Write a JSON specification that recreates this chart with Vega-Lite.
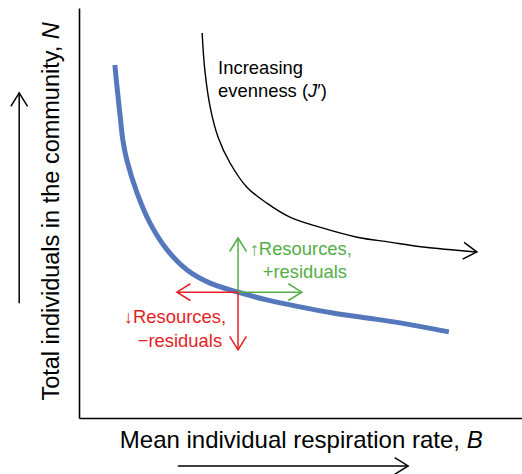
{
  "$schema": "https://vega.github.io/schema/vega-lite/v6.json",
  "width": 443,
  "height": 410,
  "autosize": {"type": "none"},
  "padding": {"left": 79, "top": 8, "right": 0, "bottom": 56},
  "background": "white",
  "config": {
    "view": {"stroke": null},
    "font": "Liberation Sans",
    "axis": {"labels": false, "ticks": false, "grid": false, "domainColor": "#000000", "domainWidth": 1.6, "title": null}
  },
  "datasets": {
    "curves": [
      {"curve": "main", "B": 0.81, "N": 8.61},
      {"curve": "main", "B": 0.85, "N": 8.16},
      {"curve": "main", "B": 0.93, "N": 7.35},
      {"curve": "main", "B": 0.99, "N": 6.78},
      {"curve": "main", "B": 1.08, "N": 6.29},
      {"curve": "main", "B": 1.31, "N": 5.49},
      {"curve": "main", "B": 1.60, "N": 4.76},
      {"curve": "main", "B": 1.99, "N": 4.10},
      {"curve": "main", "B": 2.44, "N": 3.61},
      {"curve": "main", "B": 2.96, "N": 3.29},
      {"curve": "main", "B": 3.59, "N": 3.07},
      {"curve": "main", "B": 4.24, "N": 2.88},
      {"curve": "main", "B": 4.99, "N": 2.71},
      {"curve": "main", "B": 5.73, "N": 2.56},
      {"curve": "main", "B": 6.50, "N": 2.44},
      {"curve": "main", "B": 7.25, "N": 2.32},
      {"curve": "main", "B": 8.35, "N": 2.10},
      {"curve": "evenness", "B": 2.78, "N": 9.39},
      {"curve": "evenness", "B": 2.84, "N": 8.49},
      {"curve": "evenness", "B": 2.96, "N": 7.59},
      {"curve": "evenness", "B": 3.14, "N": 6.85},
      {"curve": "evenness", "B": 3.41, "N": 6.22},
      {"curve": "evenness", "B": 3.79, "N": 5.63},
      {"curve": "evenness", "B": 4.24, "N": 5.24},
      {"curve": "evenness", "B": 4.76, "N": 4.90},
      {"curve": "evenness", "B": 5.51, "N": 4.63},
      {"curve": "evenness", "B": 6.28, "N": 4.41},
      {"curve": "evenness", "B": 7.02, "N": 4.29},
      {"curve": "evenness", "B": 7.77, "N": 4.17},
      {"curve": "evenness", "B": 8.98, "N": 4.05}
    ],
    "arrows": [
      {"group": "more", "dir": "up", "x0": 3.59, "y0": 3.07, "x1": 3.59, "y1": 4.39},
      {"group": "more", "dir": "right", "x0": 3.59, "y0": 3.07, "x1": 5.03, "y1": 3.07},
      {"group": "less", "dir": "left", "x0": 3.59, "y0": 3.07, "x1": 2.21, "y1": 3.07},
      {"group": "less", "dir": "down", "x0": 3.59, "y0": 3.07, "x1": 3.59, "y1": 1.66},
      {"group": "axis", "dir": "up", "x0": -1.35, "y0": 2.80, "x1": -1.35, "y1": 7.93},
      {"group": "axis", "dir": "right", "x0": 2.23, "y0": -1.17, "x1": 7.43, "y1": -1.17},
      {"group": "evenness", "dir": "tip", "x0": 7.77, "y0": 4.17, "x1": 8.98, "y1": 4.05}
    ]
  },
  "layer": [
    {
      "data": {"name": "curves"},
      "transform": [{"filter": "datum.curve === 'main'"}],
      "mark": {"type": "line", "interpolate": "catmull-rom", "strokeWidth": 5},
      "encoding": {
        "x": {"field": "B", "type": "quantitative", "scale": {"domain": [0, 10], "nice": false, "zero": false}, "title": null},
        "y": {"field": "N", "type": "quantitative", "scale": {"domain": [0, 10], "nice": false, "zero": false}, "title": null},
        "color": {"field": "curve", "type": "nominal", "legend": null,
          "scale": {"domain": ["main", "evenness", "more", "less", "axis"], "range": ["#5577BC", "#000000", "#55AD47", "#E51E25", "#000000"]}}
      }
    },
    {
      "data": {"name": "curves"},
      "transform": [{"filter": "datum.curve === 'evenness'"}],
      "mark": {"type": "line", "interpolate": "catmull-rom", "strokeWidth": 1.4},
      "encoding": {
        "x": {"field": "B", "type": "quantitative", "title": null},
        "y": {"field": "N", "type": "quantitative", "title": null},
        "color": {"field": "curve", "type": "nominal", "legend": null}
      }
    },
    {
      "data": {"name": "arrows"},
      "transform": [{"filter": "datum.dir !== 'tip'"}],
      "mark": {"type": "rule", "strokeWidth": 1.5},
      "encoding": {
        "x": {"field": "x0", "type": "quantitative", "title": null},
        "y": {"field": "y0", "type": "quantitative", "title": null},
        "x2": {"field": "x1"},
        "y2": {"field": "y1"},
        "color": {"field": "group", "type": "nominal", "legend": null}
      }
    },
    {
      "data": {"name": "arrows"},
      "mark": {"type": "point", "shape": "M-1,-0.62L0,0L-1,0.62", "filled": false, "strokeWidth": 1.5, "size": 729, "opacity": 1},
      "encoding": {
        "x": {"field": "x1", "type": "quantitative", "title": null},
        "y": {"field": "y1", "type": "quantitative", "title": null},
        "color": {"field": "group", "type": "nominal", "legend": null},
        "angle": {"field": "dir", "type": "nominal", "legend": null,
          "scale": {"type": "ordinal", "domain": ["right", "up", "left", "down", "tip"], "range": [0, 270, 180, 90, 5]}}
      }
    },
    {
      "data": {"values": [
        {"text": "Increasing", "B": 3.14, "N": 8.39, "group": "evenness"},
        {"text": "′)", "B": 5.38, "N": 7.84, "group": "evenness"}
      ]},
      "mark": {"type": "text", "align": "left", "baseline": "alphabetic", "fontSize": 18.4},
      "encoding": {
        "x": {"field": "B", "type": "quantitative", "title": null},
        "y": {"field": "N", "type": "quantitative", "title": null},
        "text": {"field": "text"},
        "color": {"field": "group", "type": "nominal", "legend": null}
      }
    },
    {
      "data": {"values": [
        {"text": "evenness (", "B": 5.17, "N": 7.84, "group": "evenness"},
        {"text": "↑Resources,", "B": 6.16, "N": 3.98, "group": "more"},
        {"text": "+residuals", "B": 6.05, "N": 3.41, "group": "more"},
        {"text": "↓Resources,", "B": 3.32, "N": 2.32, "group": "less"},
        {"text": "−residuals", "B": 3.23, "N": 1.73, "group": "less"}
      ]},
      "mark": {"type": "text", "align": "right", "baseline": "alphabetic", "fontSize": 18.4},
      "encoding": {
        "x": {"field": "B", "type": "quantitative", "title": null},
        "y": {"field": "N", "type": "quantitative", "title": null},
        "text": {"field": "text"},
        "color": {"field": "group", "type": "nominal", "legend": null}
      }
    },
    {
      "data": {"values": [
        {"text": "J", "B": 5.17, "N": 7.84, "group": "evenness"}
      ]},
      "mark": {"type": "text", "align": "left", "baseline": "alphabetic", "fontSize": 18.4, "fontStyle": "italic"},
      "encoding": {
        "x": {"field": "B", "type": "quantitative", "title": null},
        "y": {"field": "N", "type": "quantitative", "title": null},
        "text": {"field": "text"},
        "color": {"field": "group", "type": "nominal", "legend": null}
      }
    },
    {
      "data": {"values": [
        {"text": "Mean individual respiration rate,", "B": 8.60, "N": -0.72, "group": "axis"}
      ]},
      "mark": {"type": "text", "align": "right", "baseline": "alphabetic", "fontSize": 24},
      "encoding": {
        "x": {"field": "B", "type": "quantitative", "title": null},
        "y": {"field": "N", "type": "quantitative", "title": null},
        "text": {"field": "text"},
        "color": {"field": "group", "type": "nominal", "legend": null}
      }
    },
    {
      "data": {"values": [
        {"text": "B", "B": 8.75, "N": -0.72, "group": "axis"}
      ]},
      "mark": {"type": "text", "align": "left", "baseline": "alphabetic", "fontSize": 24, "fontStyle": "italic"},
      "encoding": {
        "x": {"field": "B", "type": "quantitative", "title": null},
        "y": {"field": "N", "type": "quantitative", "title": null},
        "text": {"field": "text"},
        "color": {"field": "group", "type": "nominal", "legend": null}
      }
    },
    {
      "data": {"values": [
        {"text": "Total individuals in the community,", "B": -0.45, "N": 9.08, "group": "axis"}
      ]},
      "mark": {"type": "text", "align": "right", "baseline": "alphabetic", "fontSize": 23.5, "angle": 270},
      "encoding": {
        "x": {"field": "B", "type": "quantitative", "title": null},
        "y": {"field": "N", "type": "quantitative", "title": null},
        "text": {"field": "text"},
        "color": {"field": "group", "type": "nominal", "legend": null}
      }
    },
    {
      "data": {"values": [
        {"text": "N", "B": -0.45, "N": 9.24, "group": "axis"}
      ]},
      "mark": {"type": "text", "align": "left", "baseline": "alphabetic", "fontSize": 23.5, "angle": 270, "fontStyle": "italic"},
      "encoding": {
        "x": {"field": "B", "type": "quantitative", "title": null},
        "y": {"field": "N", "type": "quantitative", "title": null},
        "text": {"field": "text"},
        "color": {"field": "group", "type": "nominal", "legend": null}
      }
    }
  ]
}
